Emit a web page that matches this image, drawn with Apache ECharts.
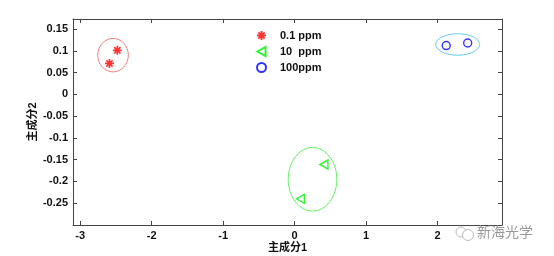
<!DOCTYPE html>
<html>
<head>
<meta charset="utf-8">
<script src="https://cdn.jsdelivr.net/npm/echarts@6/dist/echarts.min.js"></script>
<style>html,body{margin:0;padding:0;background:#fff}#c{width:554px;height:256px}</style>
</head>
<body>
<div id="c"></div>
<script>
// ---- data ----
const seriesNames = ['0.1 ppm', '10  ppm', '100ppm'];
const ppm01 = [[-2.48, 0.101], [-2.59, 0.071]];
const ppm10 = [[0.41, -0.161], [0.08, -0.240]];
const ppm100 = [[2.12, 0.112], [2.42, 0.118]];
// ellipses: [cx, cy, rx, ry]
const ellipses = [[-2.54, 0.090, 0.214, 0.0385], [0.25, -0.195, 0.34, 0.073], [2.28, 0.1145, 0.307, 0.0247]];
const ellipseColors = ['#f08080', '#66ee66', '#66ccee'];
const xTicks = [-3, -2, -1, 0, 1, 2];
const yTicks = [-0.25, -0.2, -0.15, -0.1, -0.05, 0, 0.05, 0.1, 0.15];
const xName = '主成分1';
const yName = '主成分2';
const watermark = '新海光学';

const font = 'Liberation Sans, Arial, Noto Sans CJK SC, sans-serif';
const axisColor = '#444';
const chart = echarts.init(document.getElementById('c'), null, {renderer: 'canvas'});

const baseX = {
  type: 'value', min: -3.1, max: 2.9, splitLine: {show: false},
  axisLine: {show: true, onZero: false, lineStyle: {color: axisColor, width: 1}},
  axisTick: {show: true, inside: true, length: 4, customValues: xTicks, lineStyle: {color: axisColor}},
};
const baseY = {
  type: 'value', min: -0.3, max: 0.173, splitLine: {show: false},
  axisLine: {show: true, onZero: false, lineStyle: {color: axisColor, width: 1}},
  axisTick: {show: true, inside: true, length: 4, customValues: yTicks, lineStyle: {color: axisColor}},
};

const asterisk = 'path://M0,-10L0,10M-10,0L10,0M-7,-7L7,7M-7,7L7,-7';
const triLeft = 'path://M0,5L9,0L9,10Z';

chart.setOption({
  animation: false,
  grid: {left: 73, right: 52, top: 19, bottom: 31, containLabel: false, outerBoundsMode: 'none'},
  legend: {
    data: seriesNames, orient: 'vertical', left: 251, top: 25, itemGap: 5,
    itemWidth: 9, itemHeight: 9,
    textStyle: {fontFamily: font, fontWeight: 'bold', fontSize: 11, color: '#111', padding: [0, 0, 0, 9]}
  },
  xAxis: [
    Object.assign({}, baseX, {
      position: 'bottom',
      axisLabel: {customValues: xTicks, fontFamily: font, fontWeight: 'bold', fontSize: 11, color: '#111', margin: 5},
      name: xName, nameLocation: 'middle', nameGap: 17, nameMoveOverlap: false,
      nameTextStyle: {fontFamily: font, fontWeight: 'bold', fontSize: 11, color: '#111'}
    }),
    Object.assign({}, baseX, {position: 'top', axisLabel: {show: false}})
  ],
  yAxis: [
    Object.assign({}, baseY, {
      position: 'left',
      axisLabel: {customValues: yTicks, fontFamily: font, fontWeight: 'bold', fontSize: 11, color: '#111', margin: 5,
        formatter: v => String(Math.round(v * 100) / 100)},
      name: yName, nameLocation: 'middle', nameGap: 35, nameMoveOverlap: false,
      nameTextStyle: {fontFamily: font, fontWeight: 'bold', fontSize: 11, color: '#111'}
    }),
    Object.assign({}, baseY, {position: 'right', axisLabel: {show: false}})
  ],
  series: [
    {
      type: 'custom', silent: true, z: 1,
      data: ellipses.map((e, i) => e.concat([i])),
      renderItem: (params, api) => {
        const c = api.coord([api.value(0), api.value(1)]);
        const s = api.size([api.value(2), api.value(3)]);
        return {
          type: 'ellipse',
          shape: {cx: c[0], cy: c[1], rx: s[0], ry: s[1]},
          style: {fill: 'none', stroke: ellipseColors[api.value(4)], lineWidth: 1}
        };
      }
    },
    {
      name: seriesNames[0], type: 'scatter', data: ppm01, symbol: asterisk, symbolSize: 9, z: 3,
      itemStyle: {color: 'rgba(0,0,0,0)', borderColor: '#ff0000', borderWidth: 1.7}
    },
    {
      name: seriesNames[1], type: 'scatter', data: ppm10, symbol: triLeft, symbolSize: [8, 9], z: 3,
      itemStyle: {color: 'rgba(0,0,0,0)', borderColor: '#00ee00', borderWidth: 1.4}
    },
    {
      name: seriesNames[2], type: 'scatter', data: ppm100, symbol: 'circle', symbolSize: 8, z: 3,
      itemStyle: {color: 'rgba(0,0,0,0)', borderColor: '#0000ff', borderWidth: 1.4}
    }
  ],
  graphic: [
    {type: 'circle', shape: {cx: 461, cy: 232, r: 5}, style: {fill: '#fff', stroke: '#bbb', lineWidth: 1}, z: 10},
    {type: 'circle', shape: {cx: 468, cy: 235, r: 5.5}, style: {fill: '#fff', stroke: '#bbb', lineWidth: 1}, z: 10},
    {type: 'text', x: 477, y: 225, style: {text: watermark, fontFamily: 'Noto Sans CJK SC', fontSize: 14, fill: '#999'}, z: 10}
  ]
});
</script>
</body>
</html>
